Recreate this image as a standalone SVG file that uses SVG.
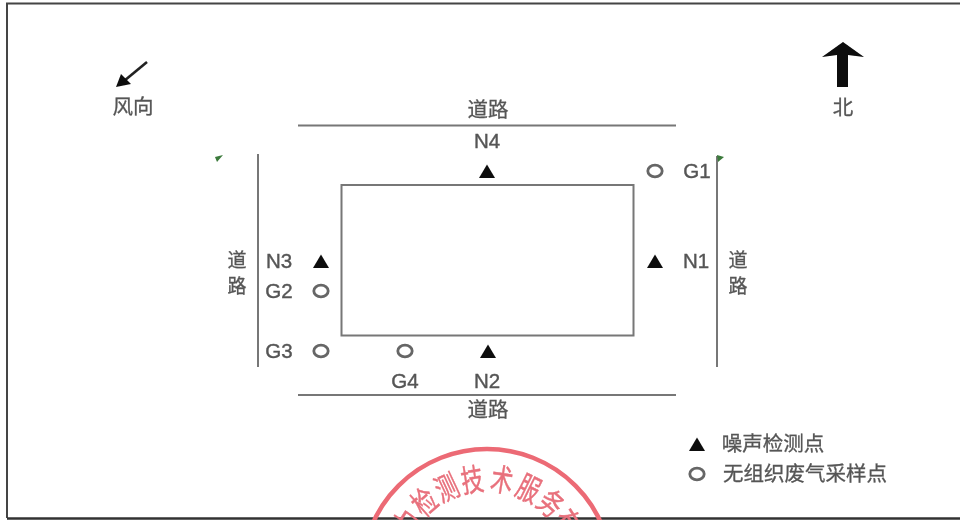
<svg xmlns="http://www.w3.org/2000/svg" width="960" height="520" viewBox="0 0 960 520">
<style>
.t{font-family:"Noto Sans CJK SC","Liberation Sans",sans-serif;font-size:20.500px;fill:#555;text-anchor:middle;stroke:#555;stroke-width:.3}
.v{font-size:19px}
.l{font-family:"Liberation Sans","Noto Sans CJK SC",sans-serif;font-size:20.500px;fill:#555;text-anchor:middle;stroke:#555;stroke-width:.4}
.road{stroke:#777;stroke-width:2;fill:none}
.o{fill:none;stroke:#666;stroke-width:2.800}
.s{font-family:"Noto Sans CJK SC",sans-serif;font-size:26px;fill:#e8707c;stroke:#e8707c;stroke-width:.4;text-anchor:middle;dominant-baseline:central}
</style>
<defs>
<filter id="b" x="-5%" y="-5%" width="110%" height="110%"><feGaussianBlur stdDeviation="0.7"/></filter>
<polygon id="tri" points="0,-7.500 8,6 -8,6" fill="#111"/>
<ellipse id="circ" class="o" rx="7.200" ry="5.800"/>
</defs>
<rect width="960" height="520" fill="#fff"/>
<g filter="url(#b)">
<g id="frame"><path d="M7 518V3.500H960" fill="none" stroke="#444" stroke-width="2"/><path d="M7 518.500H960" fill="none" stroke="#333" stroke-width="2.500"/></g>
<g id="wind"><path d="M147 62L124 81" stroke="#222" stroke-width="2.600" fill="none"/><path d="M116 87L121 74L131 84Z" fill="#111"/><text class="t" x="133" y="114">风向</text></g>
<g id="north"><path d="M843 42L864 57L848 55V87H837V55L822 57Z" fill="#080808"/><text class="t" x="843" y="115">北</text></g>
<g id="connectors">
<path class="road" d="M298 125.500H676"/><path class="road" d="M298 395H676"/><path class="road" d="M258 154V367"/><path class="road" d="M717 156V367"/>
</g>
<g id="flag-left"><path d="M215 157L223 155L217 162Z" fill="#3a7a3a"/></g>
<g id="flag-right"><path d="M717 155L724 157L718 162Z" fill="#3a7a3a"/></g>
<g id="building"><rect x="341.500" y="185" width="292" height="150.500" fill="#fff" stroke="#777" stroke-width="2"/></g>
<g id="road-n"><text class="t" x="488" y="117">道路</text></g>
<g id="road-s"><text class="t" x="488" y="417">道路</text></g>
<g id="road-w"><text class="t v" x="237" y="267">道</text><text class="t v" x="237" y="293">路</text></g>
<g id="road-e"><text class="t v" x="738" y="267">道</text><text class="t v" x="738" y="293">路</text></g>
<g id="n4"><text class="l" x="487" y="148">N4</text><use href="#tri" x="487" y="172"/></g>
<g id="n3"><text class="l" x="279" y="268">N3</text><use href="#tri" x="321" y="262"/></g>
<g id="n1"><text class="l" x="696" y="268">N1</text><use href="#tri" x="655" y="262"/></g>
<g id="n2"><text class="l" x="487" y="388">N2</text><use href="#tri" x="488" y="352"/></g>
<g id="g1"><use href="#circ" x="655" y="171"/><text class="l" x="697" y="178">G1</text></g>
<g id="g2"><use href="#circ" x="321" y="291"/><text class="l" x="279" y="298">G2</text></g>
<g id="g3"><use href="#circ" x="321" y="351"/><text class="l" x="279" y="358">G3</text></g>
<g id="g4"><use href="#circ" x="405" y="351"/><text class="l" x="405" y="388">G4</text></g>
<g id="legend"><use href="#tri" x="697" y="445"/><text class="t" x="773" y="451">噪声检测点</text><use href="#circ" x="697" y="474"/><text class="t" x="805" y="481">无组织废气采样点</text></g>
<g id="stamp"><circle cx="487" cy="574" r="125" fill="none" stroke="#ec6a74" stroke-width="4.500"/>
<text class="s" transform="translate(487 574) rotate(-57) translate(0 -97) scale(.85 1.200)">力</text>
<text class="s" transform="translate(487 574) rotate(-41) translate(0 -97) scale(.85 1.200)">检</text>
<text class="s" transform="translate(487 574) rotate(-25) translate(0 -97) scale(.85 1.200)">测</text>
<text class="s" transform="translate(487 574) rotate(-9) translate(0 -97) scale(.85 1.200)">技</text>
<text class="s" transform="translate(487 574) rotate(9) translate(0 -97) scale(.85 1.200)">术</text>
<text class="s" transform="translate(487 574) rotate(26) translate(0 -97) scale(.85 1.200)">服</text>
<text class="s" transform="translate(487 574) rotate(42) translate(0 -97) scale(.85 1.200)">务</text>
<text class="s" transform="translate(487 574) rotate(57) translate(0 -97) scale(.85 1.200)">有</text>
</g>
</g>
</svg>
